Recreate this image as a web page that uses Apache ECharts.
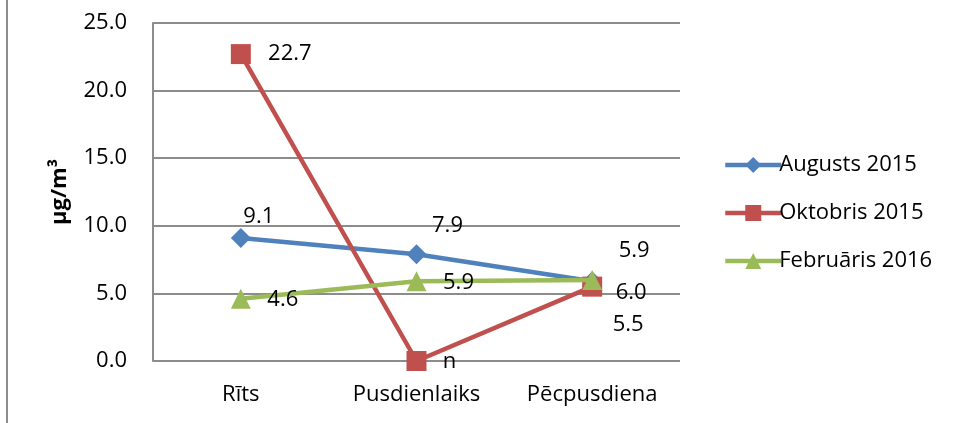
<!DOCTYPE html>
<html>
<head>
<meta charset="utf-8">
<script src="https://cdn.jsdelivr.net/npm/echarts@6/dist/echarts.min.js"></script>
<style>
  html, body { margin: 0; padding: 0; background: #fff; }
  #chart { width: 958px; height: 423px; }
</style>
</head>
<body>
<div id="chart"></div>
<script>
// Chart values.
const categories = ["Rīts", "Pusdienlaiks", "Pēcpusdiena"];
const seriesNames = ["Augusts 2015", "Oktobris 2015", "Februāris 2016"];
const augusts = [9.1, 7.9, 5.9];
const oktobris = [22.7, 0, 5.5];
const februaris = [4.6, 5.9, 6.0];
// text shown next to each point (Oktobris midday reads "n" in the source)
const augustsLabels = ["9.1", "7.9", "5.9"];
const oktobrisLabels = ["22.7", "n", "5.5"];
const februarisLabels = ["4.6", "5.9", "6.0"];
const yTicks = { min: 0, max: 25, interval: 5 };

const FONT = "'Open Sans', Lato, sans-serif";
const FS = 22;
const colors = ["#4F81BD", "#C0504D", "#9BBB59"];
const symbols = ["diamond", "rect", "triangle"];
const symbolSizes = [20, 20, 20];
// label offsets from the point centre, per series / per category (styling only)
const labelOffsets = [
  [[18, -21], [31, -28], [42, -30]],
  [[49, 0], [33, 1], [36, 38]],
  [[42, 1], [42, 2], [39, 13]],
];

const values = [augusts, oktobris, februaris];
const texts = [augustsLabels, oktobrisLabels, februarisLabels];

const chart = echarts.init(document.getElementById("chart"), null, { renderer: "canvas" });

const series = values.map((vals, s) => ({
  name: seriesNames[s],
  type: "line",
  data: vals.map((v, i) => ({
    value: v,
    label: { offset: labelOffsets[s][i], formatter: () => texts[s][i] },
  })),
  color: colors[s],
  symbol: symbols[s],
  symbolSize: symbolSizes[s],
  showSymbol: true,
  lineStyle: { width: 4.5, color: colors[s] },
  itemStyle: { color: colors[s] },
  label: {
    show: true,
    position: "inside",
    color: "#000",
    fontFamily: FONT,
    fontSize: FS,
  },
  emphasis: { disabled: true },
  animation: false,
  z: 2 + s,
}));

chart.setOption({
  backgroundColor: "#fff",
  animation: false,
  grid: { left: 153, right: 278, top: 23, bottom: 62, containLabel: false },
  legend: {
    orient: "vertical",
    left: 718,
    top: 149,
    itemWidth: 56,
    itemHeight: 20,
    itemGap: 26,
    lineStyle: { width: 4.5 },
    textStyle: { fontFamily: FONT, fontSize: FS, color: "#000", padding: [0, 0, 0, -7] },
    data: seriesNames,
  },
  xAxis: {
    type: "category",
    data: categories,
    boundaryGap: true,
    axisLine: { show: false },
    axisTick: { show: false },
    axisLabel: { color: "#000", fontFamily: FONT, fontSize: FS, margin: 23 },
    splitLine: { show: false },
  },
  yAxis: {
    type: "value",
    min: yTicks.min,
    max: yTicks.max,
    interval: yTicks.interval,
    name: "µg/m³",
    nameLocation: "middle",
    nameGap: 82,
    nameTextStyle: { color: "#000", fontFamily: FONT, fontSize: FS, fontWeight: "bold" },
    axisLine: { show: true, lineStyle: { color: "#8c8c8c", width: 2 } },
    axisTick: { show: false },
    axisLabel: {
      color: "#000",
      fontFamily: FONT,
      fontSize: FS,
      margin: 26,
      formatter: v => v.toFixed(1),
    },
    splitLine: { show: true, lineStyle: { color: "#8c8c8c", width: 2 } },
  },
  graphic: [{
    type: "line",
    shape: { x1: 7, y1: 0, x2: 7, y2: 423 },
    style: { stroke: "#8c8c8c", lineWidth: 2 },
  }],
  series,
});
</script>
</body>
</html>
